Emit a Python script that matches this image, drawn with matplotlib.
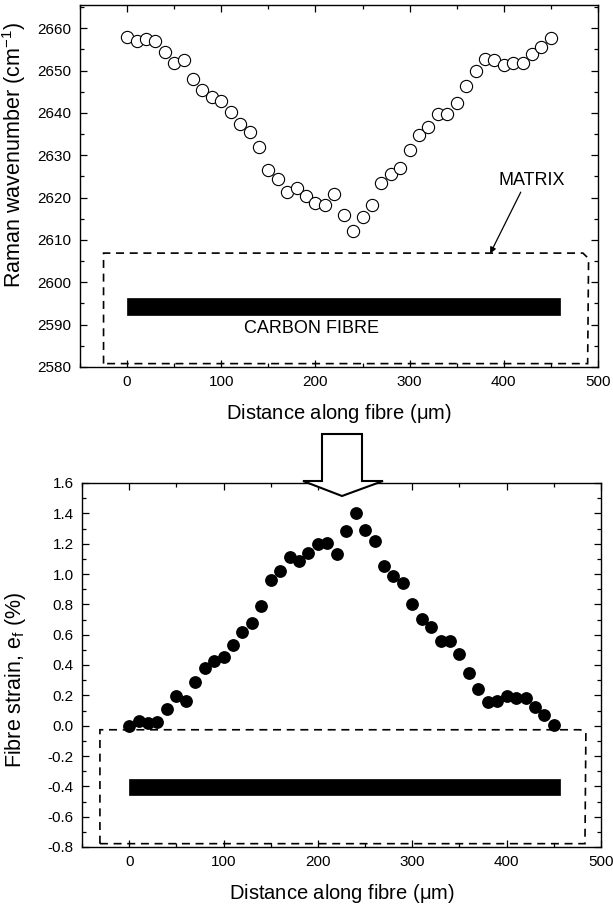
import matplotlib
matplotlib.use("Agg")
import matplotlib.pyplot as plt
from matplotlib.patches import Rectangle, Polygon
from matplotlib.ticker import MultipleLocator

plt.rcParams['font.family'] = ['Liberation Sans', 'DejaVu Sans']
plt.rcParams['mathtext.fontset'] = 'custom'
plt.rcParams['mathtext.rm'] = 'Liberation Sans'
plt.rcParams['mathtext.it'] = 'Liberation Sans'

# ---- data ----
distance = [0, 10, 20, 30, 40, 50, 60, 70, 80, 90, 100, 110, 120, 130, 140, 150,
            160, 170, 180, 190, 200, 210, 220, 230, 240, 250, 260, 270, 280, 290,
            300, 310, 320, 330, 340, 350, 360, 370, 380, 390, 400, 410, 420, 430,
            440, 450]
raman = [2657.9, 2656.9, 2657.4, 2657.1, 2654.4, 2651.7, 2652.5, 2648.1, 2645.4,
         2643.8, 2642.8, 2640.3, 2637.4, 2635.4, 2632.0, 2626.5, 2624.4, 2621.4,
         2622.3, 2620.5, 2618.7, 2618.3, 2620.9, 2616.0, 2612.2, 2615.4, 2618.3,
         2623.5, 2625.5, 2627.0, 2631.3, 2634.7, 2636.6, 2639.7, 2639.7, 2642.3,
         2646.4, 2650.0, 2652.7, 2652.5, 2651.4, 2651.7, 2651.9, 2653.9, 2655.6,
         2657.7]
strain = [0.0, 0.03, 0.02, 0.025, 0.11, 0.195, 0.165, 0.29, 0.38, 0.425, 0.455,
          0.535, 0.615, 0.68, 0.79, 0.96, 1.02, 1.115, 1.085, 1.14, 1.195, 1.205,
          1.13, 1.285, 1.405, 1.29, 1.215, 1.05, 0.99, 0.94, 0.805, 0.705, 0.65,
          0.555, 0.555, 0.47, 0.345, 0.24, 0.155, 0.16, 0.195, 0.185, 0.18, 0.125,
          0.07, 0.005]

top_yticks = [2580, 2590, 2600, 2610, 2620, 2630, 2640, 2650, 2660]
bot_yticks = [-0.8, -0.6, -0.4, -0.2, 0.0, 0.2, 0.4, 0.6, 0.8, 1.0, 1.2, 1.4, 1.6]
xticks = [0, 100, 200, 300, 400, 500]

W, H = 613, 906
fig = plt.figure(figsize=(W / 100, H / 100), dpi=100)


def fig_rect(l, r, t, b):
    return [l / W, 1 - b / H, (r - l) / W, (b - t) / H]


def style(ax):
    for s in ax.spines.values():
        s.set_linewidth(1.0)
    ax.tick_params(which='both', direction='in', top=True, right=True,
                   labelsize=11, pad=6)
    ax.tick_params(which='major', length=5, width=0.9)
    ax.tick_params(which='minor', length=3, width=0.9)
    ax.set_xticks(xticks)
    ax.xaxis.set_minor_locator(MultipleLocator(50))


dash = (0, (4.8, 3.4))
box_lw = 1.2

# ---- top panel ----
ax1 = fig.add_axes(fig_rect(80, 598, 5, 367))
ax1.plot(distance, raman, 'o', ms=8.8, mfc='white', mec='black', mew=0.8,
         zorder=3)
ax1.set_xlim(-50, 500)
ax1.set_ylim(2580, 2665.5)
style(ax1)
ax1.set_yticks(top_yticks)
ax1.yaxis.set_minor_locator(MultipleLocator(5))
ax1.set_xlabel('Distance along fibre ($\\mu$m)', fontsize=14.5, labelpad=9)
ax1.set_ylabel('Raman wavenumber (cm$^{-1}$)', fontsize=15.5)
ax1.yaxis.set_label_coords(-0.100, 0.585)
ax1.add_patch(Polygon([(-25, 2580.8), (-25, 2606.9), (484, 2606.9),
                       (490, 2605.6), (489, 2580.8)], closed=True, fill=False,
                      ec='black', lw=box_lw, ls=dash, zorder=2))
ax1.add_patch(Rectangle((0, 2592.3), 460, 2596.2 - 2592.3, fc='black',
                        ec='black', lw=0.5, zorder=2))
ax1.text(196, 2589, 'CARBON FIBRE', ha='center', va='center', fontsize=13)
ax1.text(430, 2624.1, 'MATRIX', ha='center', va='center', fontsize=13)
ax1.annotate('', xy=(385.5, 2606.8), xytext=(418, 2621.3),
             arrowprops=dict(arrowstyle='-|>', color='black', lw=0.9,
                             mutation_scale=9, shrinkA=0, shrinkB=0))

# ---- bottom panel ----
ax2 = fig.add_axes(fig_rect(82, 601, 483, 847))
ax2.plot(distance, strain, 'o', ms=8.2, mfc='black', mec='black', zorder=3)
ax2.set_xlim(-50, 500)
ax2.set_ylim(-0.8, 1.6)
style(ax2)
ax2.set_yticks(bot_yticks)
ax2.set_yticklabels([f'{v:.1f}' for v in bot_yticks])
ax2.yaxis.set_minor_locator(MultipleLocator(0.1))
ax2.set_xlabel('Distance along fibre ($\\mu$m)', fontsize=14.5, labelpad=9)
ax2.set_ylabel('Fibre strain, e$_f$ (%)', fontsize=15.5)
ax2.yaxis.set_label_coords(-0.105, 0.46)
ax2.add_patch(Polygon([(-31, -0.778), (-31, -0.027), (478, -0.027),
                       (484, -0.042), (483, -0.778)], closed=True, fill=False,
                      ec='black', lw=box_lw, ls=dash, zorder=2))
ax2.add_patch(Rectangle((0, -0.46), 457, 0.11, fc='black', ec='black',
                        lw=0.5, zorder=2))

# ---- block arrow between panels ----
pts_px = [(322, 434), (362, 434), (362, 481), (383, 481), (342, 496),
          (303, 481), (322, 481)]
pts = [(x / W, 1 - y / H) for x, y in pts_px]
fig.add_artist(Polygon(pts, closed=True, fc='white', ec='black', lw=1.5,
                       zorder=10, transform=fig.transFigure))

fig.savefig('out.png', dpi=100)
